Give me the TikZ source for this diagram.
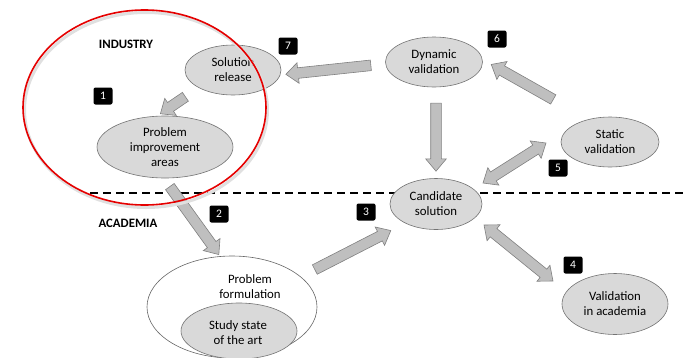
\documentclass[tikz,border=0pt]{standalone}
\usepackage{fontspec}
\setmainfont{Carlito}
\usetikzlibrary{shapes.geometric,shapes.arrows,calc}

\tikzset{
  stage/.style={ellipse, draw=black!55, fill=black!15, line width=0.6pt,
    inner sep=0pt, align=center, font=\fontsize{12.8}{15}\selectfont},
  plaintext/.style={align=center, font=\fontsize{12.8}{15}\selectfont},
  areatitle/.style={font=\bfseries\fontsize{12.8}{14}\selectfont},
  numbox/.style={fill=black, text=white, rounded corners=2pt, inner sep=0pt,
    minimum width=19pt, minimum height=17pt, font=\fontsize{11.5}{12}\selectfont},
  blockarrow/.style={draw=black!50, fill=black!25, line width=0.6pt,
    inner xsep=0pt, inner ysep=5pt, outer sep=0pt,
    single arrow head extend=5pt, double arrow head extend=5pt,
    single arrow tip angle=80, double arrow tip angle=80},
}

% block arrow node stretched and turned from one named point to another
\newcommand\blockarr[4][single arrow]{%
  \path let \p1=($(#4)-(#3)$), \n1={atan2(\y1,\x1)}, \n2={veclen(\x1,\y1)} in
    node[blockarrow, #1, name=#2, minimum height=\n2, rotate=\n1]
      at ($(#3)!0.5!(#4)$) {};}

\begin{document}
\begin{tikzpicture}[x=1pt, y=-1pt]
\useasboundingbox (0,0) rectangle (686,357);

% boundary between industry and academia
\draw[line width=1.2pt, dash pattern=on 8pt off 5pt] (90,193) coordinate (dl) -- (686,193) coordinate (dr);

\node[areatitle] (ind) at (126,44) {INDUSTRY};
\node[areatitle] (acad) at (128,223) {ACADEMIA};

% problem formulation with its inner stage
\node[ellipse, draw=black!60, fill=white, line width=0.6pt, minimum width=170pt, minimum height=102pt, inner sep=0pt] (pf) at (232,307) {};
\node[plaintext] (pft) at (250,287) {Problem\\formulation};
\node[stage, minimum width=116pt, minimum height=56pt] (sota) at (239,331) {};
\node[plaintext] (sotat) at (238,333) {Study state\\of the art};

% stages
\node[stage, minimum width=96pt, minimum height=50pt] (sr) at (233,70) {Solution\\release};
\node[stage, minimum width=136pt, minimum height=62pt] (pia) at (165,147) {Problem\\improvement\\areas};
\node[stage, minimum width=97pt, minimum height=50pt] (dv) at (434,62) {Dynamic\\validation};
\node[stage, minimum width=98pt, minimum height=50pt] (sv) at (610,142) {Static\\validation};
\node[stage, minimum width=92pt, minimum height=51pt] (cs) at (436,204) {Candidate\\solution};
\node[stage, minimum width=106pt, minimum height=61pt] (via) at (615,304) {Validation\\in academia};

% arrow end points
\coordinate (p1a) at (188,95);  \coordinate (p1b) at (163,112);
\coordinate (p2a) at (168,184); \coordinate (p2b) at (217,252);
\coordinate (p3a) at (312,271); \coordinate (p3b) at (388,232);
\coordinate (p4a) at (484,225); \coordinate (p4b) at (553,281);
\coordinate (p5a) at (483,183); \coordinate (p5b) at (546,143);
\coordinate (p6a) at (556,101); \coordinate (p6b) at (494,66);
\coordinate (p7a) at (374,65);  \coordinate (p7b) at (289,74);
\coordinate (p8a) at (436,100); \coordinate (p8b) at (436,168);

\blockarr{a1}{p1a}{p1b}
\blockarr{a2}{p2a}{p2b}
\blockarr{a3}{p3a}{p3b}
\blockarr[double arrow]{a4}{p4a}{p4b}
\blockarr[double arrow]{a5}{p5a}{p5b}
\blockarr{a6}{p6a}{p6b}
\blockarr{a7}{p7a}{p7b}
\blockarr{a8}{p8a}{p8b}

% step numbers
\node[numbox] (n1) at (103,96) {1};
\node[numbox] (n2) at (219,214) {2};
\node[numbox] (n3) at (366,212) {3};
\node[numbox] (n4) at (573,265) {4};
\node[numbox] (n5) at (558,168) {5};
\node[numbox] (n6) at (497,39) {6};
\node[numbox] (n7) at (288,46) {7};

% industry focus ring
\draw[black!12, line width=3pt] (146,110) ellipse [x radius=121.5, y radius=97.5];
\draw[red!90!black, line width=1.6pt] (144.5,107.5) ellipse [x radius=121.5, y radius=97.5];
\end{tikzpicture}
\end{document}
